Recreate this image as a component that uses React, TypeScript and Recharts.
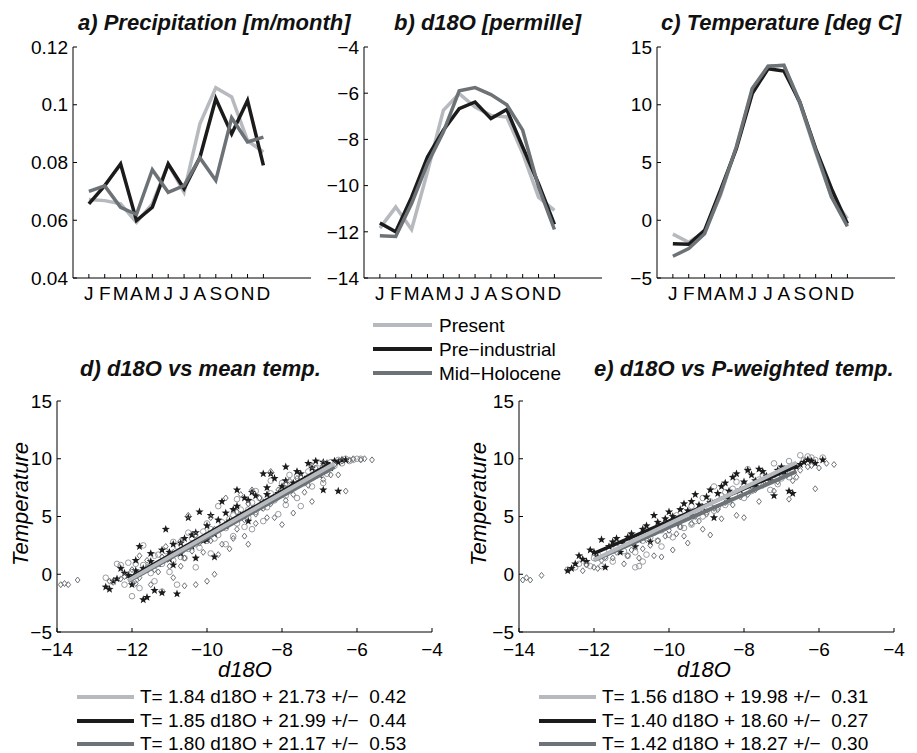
import React from "react";
import { LineChart, Line, ScatterChart, Scatter, XAxis, YAxis } from "recharts";

const FONT = '"Liberation Sans", Arial, Helvetica, sans-serif';
const C_PRESENT = "#b6b9bd";
const C_PRE = "#1b1b1b";
const C_MID = "#6c7276";

const MONTHS = ["J", "F", "M", "A", "M", "J", "J", "A", "S", "O", "N", "D"];
const MONTH_POS = [1, 2, 3, 4, 5, 6, 7, 8, 9, 10, 11, 12];

// a) precipitation [m/month]
const precipPresent = [0.0672, 0.0668, 0.0657, 0.0593, 0.0657, 0.0795, 0.0697, 0.0934, 0.1059, 0.1027, 0.0876, 0.0836];
const precipPre = [0.0657, 0.072, 0.0795, 0.0599, 0.0645, 0.0795, 0.0709, 0.0818, 0.1021, 0.0899, 0.1015, 0.079];
const precipMid = [0.07, 0.0719, 0.0645, 0.062, 0.0775, 0.0697, 0.072, 0.0816, 0.0738, 0.0955, 0.0871, 0.0888];

// b) d18O [permille]
const d18oPresent = [-11.84, -10.93, -11.9, -9.4, -6.74, -6.02, -6.6, -6.96, -7.03, -8.6, -10.5, -11.07];
const d18oPre = [-11.62, -12.0, -10.5, -8.76, -7.6, -6.67, -6.38, -7.1, -6.71, -8.33, -9.92, -11.68];
const d18oMid = [-12.17, -12.2, -10.78, -9.05, -7.68, -5.9, -5.76, -6.06, -6.5, -7.6, -10.06, -11.9];

// c) temperature [deg C]
const tempPresent = [-1.2, -1.9, -1.0, 2.16, 6.34, 11.25, 13.33, 13.41, 10.09, 5.9, 2.0, 0.14];
const tempPre = [-2.03, -2.08, -0.87, 2.6, 6.2, 10.96, 13.12, 12.92, 10.24, 6.2, 2.73, -0.3];
const tempMid = [-3.12, -2.46, -1.16, 2.3, 6.34, 11.4, 13.33, 13.41, 10.24, 6.05, 2.0, -0.53];

// d) d18O vs mean temperature
const meanPresent = [
  [-12.7, -0.3], [-12.4, 0.9], [-12.3, 0.8], [-12.1, 1.0], [-12.0, -1.9], [-11.9, 0.9], [-11.8, -1.2],
  [-11.7, 2.5], [-11.6, 0.4], [-11.4, -0.6], [-11.3, 1.7], [-11.2, -1.5], [-11.0, 0.2], [-10.9, 2.8],
  [-10.8, -0.9], [-10.6, 1.4], [-10.5, 3.6], [-10.3, 0.6], [-10.2, 2.3], [-10.0, 4.4], [-9.9, 1.8],
  [-9.8, 3.1], [-9.7, 5.9], [-9.5, 2.6], [-9.4, 4.8], [-9.3, 3.3], [-9.2, 6.5], [-9.0, 4.1], [-8.9, 5.6],
  [-8.8, 3.9], [-8.7, 7.2], [-8.5, 4.6], [-8.4, 6.3], [-8.3, 8.1], [-8.1, 5.2], [-8.0, 7.4], [-7.9, 6.0],
  [-7.8, 8.6], [-7.6, 6.6], [-7.5, 5.9], [-7.3, 8.9], [-7.2, 7.6], [-7.0, 9.6], [-6.9, 7.9], [-6.7, 9.7],
  [-6.5, 9.9], [-6.3, 10.0], [-6.1, 9.9], [-5.9, 10.0],
  [-12.2, -0.9], [-12.0, 0.2], [-11.9, -0.5], [-11.7, 0.8], [-11.5, 0.1], [-11.4, 1.6], [-11.2, 0.9],
  [-11.1, 2.0], [-10.9, 1.2], [-10.8, 2.4], [-10.7, 1.5], [-10.5, 2.2], [-10.4, 3.1], [-10.3, 2.6],
  [-10.1, 3.7], [-10.0, 2.9], [-9.9, 3.9], [-9.7, 3.4], [-9.6, 4.5], [-9.5, 4.0], [-9.3, 5.1], [-9.2, 4.4],
  [-9.1, 5.6], [-8.9, 4.9], [-8.8, 6.2], [-8.7, 5.4], [-8.6, 6.6], [-8.4, 5.8], [-8.3, 7.0], [-8.2, 6.4],
  [-8.0, 7.9], [-7.9, 6.8], [-7.7, 7.7], [-7.6, 8.5], [-7.4, 7.9], [-7.3, 8.4], [-7.1, 8.8], [-6.9, 9.3],
  [-6.8, 8.7], [-6.6, 9.4], [-6.4, 9.6], [-6.2, 9.8], [-6.0, 10.0],
];
const meanPre = [
  [-12.7, -1.1], [-12.6, -1.3], [-12.4, -0.4], [-12.3, 0.5], [-12.1, -0.1], [-11.9, 0.3], [-11.8, 2.4],
  [-11.7, -2.2], [-11.6, -2.0], [-11.5, 1.1], [-11.4, -1.4], [-11.2, -1.6], [-11.1, 3.9], [-11.0, 1.9],
  [-10.9, 0.8], [-10.8, -1.7], [-10.7, 2.7], [-10.5, 4.9], [-10.4, 3.4], [-10.3, 1.4], [-10.2, 5.4],
  [-10.0, 3.0], [-9.9, 5.1], [-9.8, 1.5], [-9.6, 6.3], [-9.5, 4.2], [-9.3, 5.6], [-9.2, 7.3], [-9.0, 6.6],
  [-8.9, 4.6], [-8.8, 7.1], [-8.6, 5.8], [-8.5, 8.7], [-8.4, 6.9], [-8.2, 8.3], [-8.0, 7.6], [-7.9, 9.3],
  [-7.7, 7.9], [-7.5, 8.7], [-7.3, 9.6], [-7.1, 9.8], [-6.9, 7.3], [-6.8, 9.6], [-6.6, 9.8], [-6.5, 7.2],
  [-6.4, 9.9],
  [-12.5, -0.6], [-12.2, 0.1], [-12.0, -0.9], [-11.9, 1.2], [-11.7, 0.5], [-11.5, 1.8], [-11.3, 0.9],
  [-11.2, 2.1], [-11.0, 1.3], [-10.9, 2.6], [-10.7, 1.8], [-10.6, 3.1], [-10.4, 2.4], [-10.3, 3.6],
  [-10.1, 2.9], [-10.0, 4.2], [-9.8, 3.5], [-9.7, 4.7], [-9.5, 5.3], [-9.4, 4.6], [-9.2, 5.9], [-9.1, 5.1],
  [-8.9, 6.4], [-8.8, 5.6], [-8.7, 6.8], [-8.5, 6.2], [-8.4, 7.5], [-8.3, 8.7], [-8.1, 7.0], [-7.9, 8.1],
  [-7.8, 7.4], [-7.6, 8.9], [-7.4, 8.2], [-7.2, 9.2], [-7.0, 8.6], [-6.9, 9.7], [-6.7, 9.2], [-6.5, 9.7],
  [-6.3, 9.9],
];
const meanMid = [
  [-13.9, -0.9], [-13.8, -0.8], [-13.7, -0.9], [-13.45, -0.5], [-12.5, -0.7], [-12.2, -0.2], [-11.9, -0.8],
  [-11.8, 1.6], [-11.6, 0.6], [-11.5, -0.9], [-11.3, 0.2], [-11.1, 2.4], [-10.9, -0.3], [-10.7, 0.7],
  [-10.6, -1.0], [-10.5, 5.1], [-10.3, -0.9], [-10.2, 2.7], [-10.0, -0.6], [-9.9, 4.9], [-9.8, 0.0],
  [-9.7, 1.7], [-9.5, 6.6], [-9.4, 2.2], [-9.2, 3.9], [-9.1, 6.9], [-9.0, 3.3], [-8.9, 2.6], [-8.8, 7.3],
  [-8.7, 4.4], [-8.5, 5.7], [-8.3, 8.9], [-8.2, 4.9], [-8.0, 4.3], [-7.9, 7.8], [-7.7, 5.3], [-7.6, 8.3],
  [-7.4, 7.1], [-7.2, 6.3], [-7.1, 9.2], [-6.9, 8.2], [-6.7, 8.6], [-6.5, 8.6], [-6.3, 7.2], [-6.1, 10.0],
  [-5.8, 10.0], [-5.6, 9.9],
  [-12.6, -0.6], [-12.3, -0.4], [-12.0, 0.4], [-11.8, -0.3], [-11.6, 1.2], [-11.4, 0.4], [-11.2, 1.5],
  [-11.0, 0.7], [-10.9, 1.9], [-10.7, 2.9], [-10.6, 1.4], [-10.4, 2.0], [-10.3, 3.4], [-10.1, 1.9],
  [-9.9, 2.9], [-9.8, 3.9], [-9.6, 2.6], [-9.5, 4.3], [-9.3, 3.1], [-9.2, 5.4], [-9.0, 4.7], [-8.9, 6.1],
  [-8.7, 5.2], [-8.6, 6.6], [-8.4, 4.9], [-8.3, 6.1], [-8.1, 7.3], [-7.9, 6.4], [-7.8, 8.1], [-7.7, 6.9],
  [-7.5, 8.4], [-7.3, 7.7], [-7.2, 9.4], [-7.0, 8.9], [-6.9, 9.6], [-6.8, 9.0], [-6.6, 9.5], [-6.4, 9.8],
  [-6.2, 9.9], [-5.9, 9.9],
];

// e) d18O vs precipitation-weighted temperature
const pwPresent = [
  [-12.7, 0.4], [-12.5, 0.6], [-12.2, 0.9], [-12.0, 1.4], [-11.8, 0.7], [-11.6, 2.1], [-11.5, 1.1],
  [-11.3, 2.6], [-11.1, 1.6], [-10.9, 0.6], [-10.8, 0.7], [-10.7, 2.9], [-10.6, 1.7], [-10.4, 3.6],
  [-10.2, 2.4], [-10.1, 4.1], [-9.9, 3.2], [-9.8, 5.1], [-9.6, 4.0], [-9.4, 5.9], [-9.3, 4.6], [-9.1, 6.6],
  [-9.0, 5.4], [-8.8, 7.6], [-8.7, 5.8], [-8.5, 7.1], [-8.4, 6.3], [-8.2, 8.0], [-8.0, 6.6], [-7.9, 9.1],
  [-7.7, 7.6], [-7.5, 8.6], [-7.3, 7.3], [-7.2, 9.6], [-7.0, 8.3], [-6.8, 9.8], [-6.7, 8.9], [-6.5, 10.3],
  [-6.3, 10.2], [-6.1, 9.9], [-5.9, 10.1],
  [-12.4, 0.9], [-12.1, 0.7], [-11.9, 1.7], [-11.7, 1.4], [-11.4, 2.3], [-11.2, 2.0], [-11.0, 2.8],
  [-10.9, 1.9], [-10.7, 1.1], [-10.5, 3.2], [-10.3, 2.9], [-10.2, 3.8], [-10.0, 3.4], [-9.9, 4.4],
  [-9.7, 4.1], [-9.5, 4.9], [-9.4, 4.3], [-9.2, 5.6], [-9.1, 5.0], [-8.9, 6.3], [-8.8, 5.5], [-8.6, 6.8],
  [-8.5, 6.0], [-8.3, 7.4], [-8.1, 6.9], [-8.0, 7.8], [-7.8, 7.2], [-7.6, 8.2], [-7.4, 7.9], [-7.2, 8.6],
  [-7.1, 7.8], [-6.9, 9.1], [-6.8, 8.4], [-6.6, 9.4], [-6.4, 9.9], [-6.2, 10.1],
];
const pwPre = [
  [-12.7, 0.3], [-12.6, 0.5], [-12.4, 1.6], [-12.2, 1.1], [-12.0, 1.9], [-11.8, 3.0], [-11.7, 0.6],
  [-11.5, 2.8], [-11.3, 1.9], [-11.1, 3.2], [-10.9, 2.4], [-10.7, 3.9], [-10.5, 2.8], [-10.4, 5.1],
  [-10.2, 4.0], [-10.0, 5.4], [-9.8, 4.4], [-9.6, 6.1], [-9.4, 5.1], [-9.3, 6.9], [-9.1, 5.8], [-8.9, 7.3],
  [-8.8, 4.9], [-8.6, 7.6], [-8.4, 6.5], [-8.3, 8.4], [-8.1, 7.3], [-7.9, 9.0], [-7.7, 8.1], [-7.6, 9.1],
  [-7.4, 8.5], [-7.2, 6.8], [-7.0, 9.3], [-6.8, 7.2], [-6.7, 7.0], [-6.5, 9.5], [-6.3, 9.9], [-6.1, 9.6],
  [-5.9, 9.9],
  [-12.5, 0.9], [-12.3, 1.3], [-12.1, 2.1], [-11.9, 1.5], [-11.6, 2.4], [-11.4, 3.1], [-11.2, 2.6],
  [-11.0, 3.5], [-10.8, 3.0], [-10.6, 4.2], [-10.5, 3.6], [-10.3, 4.5], [-10.1, 4.8], [-9.9, 5.0],
  [-9.7, 5.6], [-9.5, 5.5], [-9.4, 6.3], [-9.2, 6.0], [-9.0, 6.7], [-8.9, 6.2], [-8.7, 7.0], [-8.5, 7.9],
  [-8.4, 7.2], [-8.2, 8.7], [-8.0, 8.0], [-7.8, 8.6], [-7.7, 7.6], [-7.5, 8.9], [-7.3, 8.1], [-7.1, 9.0],
  [-6.9, 8.6], [-6.6, 9.3], [-6.4, 9.7], [-6.2, 9.8],
];
const pwMid = [
  [-13.9, -0.5], [-13.8, -0.3], [-13.7, -0.5], [-13.4, -0.1], [-12.3, 0.3], [-12.0, 0.6], [-11.8, 1.2],
  [-11.5, 1.4], [-11.2, 0.9], [-11.0, 2.1], [-10.8, 1.4], [-10.6, 3.0], [-10.4, 1.6], [-10.2, 1.5],
  [-10.1, 3.3], [-9.9, 2.1], [-9.7, 4.1], [-9.5, 2.7], [-9.3, 5.0], [-9.1, 3.9], [-8.9, 3.4], [-8.8, 5.7],
  [-8.6, 4.8], [-8.4, 6.9], [-8.2, 5.1], [-8.0, 4.9], [-7.8, 7.6], [-7.6, 6.3], [-7.4, 8.1], [-7.2, 7.2],
  [-7.0, 8.6], [-6.8, 6.5], [-6.6, 8.4], [-6.3, 9.3], [-6.1, 7.4], [-5.8, 9.6], [-5.6, 9.5],
  [-12.2, 0.8], [-11.9, 0.5], [-11.7, 1.5], [-11.4, 1.9], [-11.1, 1.6], [-10.9, 2.4], [-10.7, 2.2],
  [-10.5, 2.5], [-10.3, 2.9], [-10.0, 3.8], [-9.8, 3.5], [-9.6, 3.3], [-9.4, 4.4], [-9.2, 4.6], [-9.0, 5.2],
  [-8.7, 5.6], [-8.5, 6.2], [-8.3, 6.0], [-8.1, 6.7], [-7.9, 6.9], [-7.7, 7.3], [-7.5, 7.7], [-7.3, 8.3],
  [-7.1, 8.0], [-6.9, 8.8], [-6.7, 8.1], [-6.5, 9.0], [-6.2, 9.4], [-6.0, 9.2],
];

// fitted lines, end points (consistent with legend equations)
const fitMeanPresent = [[-12.1, -0.53], [-6.6, 9.59]];
const fitMeanPre = [[-12.1, -0.40], [-6.7, 9.6]];
const fitMeanMid = [[-12.1, -0.61], [-6.6, 9.29]];
const fitPwPresent = [[-12.0, 1.26], [-6.6, 9.68]];
const fitPwPre = [[-12.0, 1.80], [-6.6, 9.36]];
const fitPwMid = [[-12.0, 1.23], [-6.6, 8.9]];

const LEGEND = ["Present", "Pre\u2212industrial", "Mid\u2212Holocene"];
const FIT_MEAN = ["T= 1.84 d18O + 21.73 +/\u2212  0.42", "T= 1.85 d18O + 21.99 +/\u2212  0.44", "T= 1.80 d18O + 21.17 +/\u2212  0.53"];
const FIT_PW = ["T= 1.56 d18O + 19.98 +/\u2212  0.31", "T= 1.40 d18O + 18.60 +/\u2212  0.27", "T= 1.42 d18O + 18.27 +/\u2212  0.30"];
const COLORS = [C_PRESENT, C_PRE, C_MID];

const minus = (v: number) => String(v).replace("-", "\u2212");
const toPts = (arr: number[][]) => arr.map(([x, y]) => ({ x, y }));
const monthTable = (a: number[], b: number[], c: number[]) =>
  MONTH_POS.map((m, i) => ({ m, present: a[i], pre: b[i], mid: c[i] }));

const tickStyle = { fill: "#000", fontSize: 19, fontFamily: FONT };

function MonthPanel({ left, data, domain, ticks, fmt }: any) {
  const yw = 70;
  return (
    <div style={{ position: "absolute", left: left - yw, top: 0 }}>
      <LineChart width={yw + 238 + 6} height={318} data={data} margin={{ top: 47, right: 6, left: 0, bottom: 10 }}>
        <XAxis
          dataKey="m"
          type="number"
          domain={[0, 15]}
          ticks={MONTH_POS}
          interval={0}
          tickFormatter={(m) => MONTHS[m - 1]}
          height={30}
          tick={tickStyle}
          tickSize={-4}
          tickMargin={13}
          axisLine={{ stroke: "#000" }}
          tickLine={{ stroke: "#000" }}
        />
        <YAxis
          type="number"
          domain={domain}
          ticks={ticks}
          interval={0}
          width={yw}
          tickFormatter={fmt}
          tick={tickStyle}
          tickSize={-4}
          tickMargin={9}
          axisLine={{ stroke: "#000" }}
          tickLine={{ stroke: "#000" }}
        />
        <Line dataKey="present" stroke={C_PRESENT} strokeWidth={3.5} dot={false} isAnimationActive={false} />
        <Line dataKey="pre" stroke={C_PRE} strokeWidth={3.5} dot={false} isAnimationActive={false} />
        <Line dataKey="mid" stroke={C_MID} strokeWidth={3.5} dot={false} isAnimationActive={false} />
      </LineChart>
    </div>
  );
}

const OpenCircle = (p: any) => <circle cx={p.cx} cy={p.cy} r={2.8} fill="none" stroke="#999ca0" strokeWidth={1} />;
const OpenDiamond = (p: any) => (
  <path d={`M${p.cx},${p.cy - 3}L${p.cx + 2.4},${p.cy}L${p.cx},${p.cy + 3}L${p.cx - 2.4},${p.cy}Z`} fill="none" stroke={C_MID} strokeWidth={1} />
);
const Star = (p: any) => {
  const pts: string[] = [];
  for (let k = 0; k < 10; k++) {
    const r = k % 2 === 0 ? 4.3 : 1.8;
    const a = -Math.PI / 2 + (k * Math.PI) / 5;
    pts.push(`${p.cx + r * Math.cos(a)},${p.cy + r * Math.sin(a)}`);
  }
  return <polygon points={pts.join(" ")} fill={C_PRE} />;
};
const NoDot = () => <g />;

function ScatterPanel({ left, present, pre, mid, fits }: any) {
  const yw = 50;
  return (
    <div style={{ position: "absolute", left: left - yw, top: 0 }}>
      <ScatterChart width={yw + 375 + 22} height={672} margin={{ top: 401, right: 22, left: 0, bottom: 10 }}>
        <XAxis
          dataKey="x"
          type="number"
          domain={[-14, -4]}
          ticks={[-14, -12, -10, -8, -6, -4]}
          interval={0}
          tickFormatter={minus}
          height={30}
          tick={tickStyle}
          tickSize={-4}
          tickMargin={15}
          axisLine={{ stroke: "#000" }}
          tickLine={{ stroke: "#000" }}
        />
        <YAxis
          dataKey="y"
          type="number"
          domain={[-5, 15]}
          ticks={[-5, 0, 5, 10, 15]}
          interval={0}
          width={yw}
          tickFormatter={minus}
          tick={tickStyle}
          tickSize={-4}
          tickMargin={9}
          axisLine={{ stroke: "#000" }}
          tickLine={{ stroke: "#000" }}
        />
        <Scatter data={toPts(present)} shape={OpenCircle} isAnimationActive={false} />
        <Scatter data={toPts(pre)} shape={Star} isAnimationActive={false} />
        <Scatter data={toPts(mid)} shape={OpenDiamond} isAnimationActive={false} />
        <Scatter data={toPts(fits[2])} shape={NoDot} line={{ stroke: C_MID, strokeWidth: 4 }} isAnimationActive={false} />
        <Scatter data={toPts(fits[1])} shape={NoDot} line={{ stroke: C_PRE, strokeWidth: 3.5 }} isAnimationActive={false} />
        <Scatter data={toPts(fits[0])} shape={NoDot} line={{ stroke: C_PRESENT, strokeWidth: 4 }} isAnimationActive={false} />
      </ScatterChart>
    </div>
  );
}

function Overlay() {
  const title = { fontFamily: FONT, fontSize: 22, fontWeight: "bold" as const, fontStyle: "italic" as const, fill: "#111" };
  const label = { fontFamily: FONT, fontSize: 22, fontStyle: "italic" as const, fill: "#000" };
  const text = { fontFamily: FONT, fontSize: 19, fill: "#000", whiteSpace: "pre" as const };
  const rows = [703, 727, 750];
  return (
    <svg width={917} height={753} style={{ position: "absolute", left: 0, top: 0, pointerEvents: "none" }}>
      <text x={78} y={30} style={title}>a) Precipitation [m/month]</text>
      <text x={394} y={30} style={title}>b) d18O [permille]</text>
      <text x={661} y={30} style={title}>c) Temperature [deg C]</text>
      <text x={80} y={376} style={title}>d) d18O vs mean temp.</text>
      <text x={594} y={376} style={title}>e) d18O vs P-weighted temp.</text>

      {LEGEND.map((t, i) => (
        <g key={t}>
          <line x1={373} x2={432} y1={325 + i * 24} y2={325 + i * 24} stroke={COLORS[i]} strokeWidth={4} />
          <text x={439} y={332 + i * 24} style={text}>{t}</text>
        </g>
      ))}

      <text transform="translate(28,504) rotate(-90)" textAnchor="middle" style={label}>Temperature</text>
      <text transform="translate(486,504) rotate(-90)" textAnchor="middle" style={label}>Temperature</text>
      <text x={245} y={677} textAnchor="middle" style={label}>d18O</text>
      <text x={704} y={677} textAnchor="middle" style={label}>d18O</text>

      {FIT_MEAN.map((t, i) => (
        <g key={t}>
          <line x1={77} x2={134} y1={rows[i] - 6} y2={rows[i] - 6} stroke={COLORS[i]} strokeWidth={4} />
          <text x={140} y={rows[i]} style={text}>{t}</text>
        </g>
      ))}
      {FIT_PW.map((t, i) => (
        <g key={t}>
          <line x1={539} x2={596} y1={rows[i] - 6} y2={rows[i] - 6} stroke={COLORS[i]} strokeWidth={4} />
          <text x={602} y={rows[i]} style={text}>{t}</text>
        </g>
      ))}
    </svg>
  );
}

export default function App() {
  return (
    <div style={{ position: "absolute", left: 0, top: 0, width: 917, height: 753, background: "#fff", overflow: "hidden" }}>
      <MonthPanel
        left={73}
        data={monthTable(precipPresent, precipPre, precipMid)}
        domain={[0.04, 0.12]}
        ticks={[0.04, 0.06, 0.08, 0.1, 0.12]}
        fmt={(v: number) => String(v)}
      />
      <MonthPanel
        left={364}
        data={monthTable(d18oPresent, d18oPre, d18oMid)}
        domain={[-14, -4]}
        ticks={[-14, -12, -10, -8, -6, -4]}
        fmt={minus}
      />
      <MonthPanel
        left={657}
        data={monthTable(tempPresent, tempPre, tempMid)}
        domain={[-5, 15]}
        ticks={[-5, 0, 5, 10, 15]}
        fmt={minus}
      />
      <ScatterPanel
        left={57}
        present={meanPresent}
        pre={meanPre}
        mid={meanMid}
        fits={[fitMeanPresent, fitMeanPre, fitMeanMid]}
      />
      <ScatterPanel
        left={519}
        present={pwPresent}
        pre={pwPre}
        mid={pwMid}
        fits={[fitPwPresent, fitPwPre, fitPwMid]}
      />
      <Overlay />
    </div>
  );
}
